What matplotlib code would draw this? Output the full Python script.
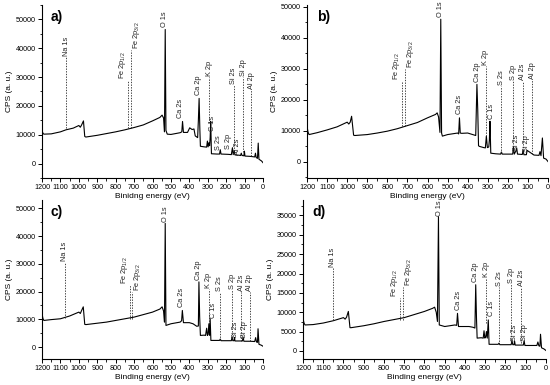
import numpy as np
import matplotlib.pyplot as plt
from matplotlib.ticker import MultipleLocator

plt.rcParams['font.family'] = ['Liberation Sans', 'DejaVu Sans']
plt.rcParams['mathtext.default'] = 'regular'

# spectra (binding energy eV, CPS)
e_a = [1200, 1195, 1190, 1150, 1100, 1070, 1030, 1000, 992, 985, 975, 968, 962, 900, 850, 800, 750, 700, 650, 600,
       560, 548, 540, 535, 531, 527, 520, 500, 450, 441, 437, 432, 410, 398, 385, 375, 368, 355, 351, 347, 343, 340,
       320, 306, 302, 298, 294, 290, 287, 284, 280, 250, 236, 232, 228, 190, 172, 166, 162, 156, 152, 130, 122, 118,
       114, 104, 101, 98, 70, 45, 41, 37, 30, 26, 22, 15, 8, 0]
y_a = [11500, 10500, 10200, 10300, 11000, 11700, 12300, 13200, 12600, 13400, 14800, 9400, 9200, 9800, 10400, 11000,
       11700, 12500, 13400, 14800, 16000, 16800, 15800, 11000, 46500, 11500, 10200, 10100, 10700, 11000, 14600,
       10800, 10800, 12400, 11800, 12000, 9600, 9000, 15000, 22600, 12000, 6000, 5800, 5700, 7800, 5800, 7200, 6200,
       9000, 14600, 3400, 3300, 3300, 4800, 3300, 3200, 3100, 5500, 3100, 4300, 3000, 2900, 2800, 3600, 2800, 2700,
       4300, 2600, 2500, 2300, 3600, 2100, 1800, 7100, 1500, 1200, 900, 300]

e_b = [1200, 1195, 1190, 1150, 1100, 1050, 1000, 992, 985, 978, 968, 962, 900, 850, 800, 750, 700, 650, 600, 560,
       552, 545, 538, 534, 530, 526, 500, 450, 445, 441, 437, 430, 400, 380, 360, 354, 350, 346, 342, 320, 312, 307,
       302, 295, 292, 289, 285, 260, 236, 232, 228, 200, 176, 172, 168, 160, 156, 152, 130, 128, 124, 120, 110, 108,
       104, 70, 45, 40, 35, 28, 22, 10, 0]
y_b = [11500, 9600, 8800, 9400, 10300, 11300, 12800, 12200, 12800, 14700, 8600, 8500, 8800, 9300, 9900, 10700, 11700,
       12700, 14200, 15300, 15800, 14500, 9500, 46000, 9300, 8300, 8800, 9300, 9000, 14200, 9300, 9200, 9300, 8900,
       8500, 25000, 17000, 5200, 5000, 4600, 4500, 8300, 4600, 4800, 7000, 13100, 2800, 2600, 2500, 3200, 2500, 2500,
       2500, 4700, 2500, 3500, 4500, 2500, 2400, 2400, 3800, 2300, 2300, 2300, 3700, 2200, 2100, 3300, 2000, 7700,
       1200, 900, 100]

e_c = [1200, 1195, 1190, 1150, 1100, 1050, 1000, 992, 985, 976, 968, 962, 900, 850, 800, 750, 700, 650, 600, 560,
       548, 540, 535, 531, 527, 500, 450, 442, 438, 432, 400, 380, 360, 351, 348, 344, 340, 320, 312, 306, 302, 298,
       294, 290, 287, 283, 260, 236, 232, 228, 200, 172, 168, 164, 158, 155, 152, 130, 112, 108, 104, 70, 45, 40, 35,
       30, 27, 22, 10, 0]
y_c = [12000, 10300, 9600, 9900, 10200, 11200, 12600, 12100, 13200, 14500, 8200, 8100, 8600, 9000, 9600, 10200, 10800,
       11700, 12600, 13700, 14500, 13000, 9000, 44600, 7800, 8400, 9000, 9500, 13200, 8800, 8800, 8400, 7500, 7600,
       23500, 11000, 4200, 4300, 4200, 6800, 4200, 4500, 8400, 4200, 10200, 2400, 2400, 2400, 2900, 2300, 2300, 2300,
       3600, 2300, 2300, 3400, 2200, 2200, 2200, 3600, 2100, 2100, 2000, 3400, 1800, 1700, 6600, 1000, 700, 300]

e_d = [1200, 1195, 1190, 1150, 1100, 1050, 1000, 992, 985, 976, 968, 962, 900, 850, 800, 750, 700, 650, 600, 560,
       550, 542, 536, 531, 527, 500, 450, 441, 437, 432, 400, 380, 360, 351, 347, 343, 340, 320, 310, 306, 302, 298,
       294, 290, 285, 281, 260, 236, 232, 228, 200, 172, 168, 164, 158, 155, 152, 130, 112, 108, 104, 70, 45, 40, 35,
       30, 27, 22, 10, 0]
y_d = [8400, 7200, 6700, 6800, 7200, 7800, 8600, 8200, 8700, 10200, 6000, 6000, 6500, 7000, 7600, 8100, 8600, 9400,
       10200, 11000, 11300, 10000, 7600, 34700, 6700, 6300, 6700, 6600, 9700, 6300, 6300, 6300, 6100, 5900, 17100,
       8000, 3300, 3400, 3300, 5200, 3300, 3500, 5000, 3300, 8000, 1700, 1700, 1700, 2000, 1600, 1600, 1600, 2700,
       1600, 1600, 2500, 1500, 1500, 1500, 2600, 1400, 1400, 1400, 2300, 1300, 1200, 4300, 800, 500, 100]

# peak labels: name, energy, bottom of dotted line, text base (CPS)
lab_a = ['Na 1s', 'Fe 2p$_{1/2}$', 'Fe 2p$_{3/2}$', 'O 1s', 'Ca 2s', 'Ca 2p', 'K 2p', 'C 1s', 'S 2s', 'S 2p',
         'Si 2s', 'Al 2s', 'Si 2p', 'Al 2p']
pos_a = [1068, 734, 716, 534, 447, 352, 292, 276, 243, 189, 158, 140, 108, 63]
bot_a = [12300, 12300, 12300, 47000, 15500, 23500, 14000, 11000, 4300, 4700, 4300, 2500, 4100, 2700]
top_a = [37000, 29000, 39300, 47000, 15500, 23500, 30100, 11000, 4300, 4700, 27200, 2500, 30000, 25500]
ha_a = ['center', 'right', 'left'] + ['center'] * 11

lab_b = ['Fe 2p$_{1/2}$', 'Fe 2p$_{3/2}$', 'O 1s', 'Ca 2s', 'Ca 2p', 'K 2p', 'C 1s', 'S 2s', 'S 2p', 'Si 2s',
         'Al 2s', 'Si 2p', 'Al 2p']
pos_b = [727, 710, 533, 442, 350, 310, 280, 233, 172, 158, 125, 108, 78]
bot_b = [11500, 11500, 46500, 15000, 25500, 8500, 13500, 2700, 3300, 3100, 3000, 3000, 2600]
top_b = [26000, 29800, 46500, 15000, 25500, 31000, 13500, 24400, 26000, 3100, 26000, 3000, 26500]
ha_b = ['right', 'left'] + ['center'] * 11

lab_c = ['Na 1s', 'Fe 2p$_{1/2}$', 'Fe 2p$_{3/2}$', 'O 1s', 'Ca 2s', 'Ca 2p', 'K 2p', 'C 1s', 'S 2s', 'S 2p',
         'Si 2s', 'Al 2s', 'Si 2p', 'Al 2p']
pos_c = [1077, 724, 710, 532, 442, 348, 294, 270, 234, 167, 149, 117, 99, 72]
bot_c = [10500, 10200, 10200, 44800, 14000, 24000, 8400, 10300, 2400, 2400, 3000, 2300, 3000, 2100]
top_c = [30700, 22300, 19900, 44800, 14000, 24000, 21100, 10300, 19900, 20500, 3000, 20000, 3000, 20000]
ha_c = ['center', 'right', 'left'] + ['center'] * 11

lab_d = ['Na 1s', 'Fe 2p$_{1/2}$', 'Fe 2p$_{3/2}$', 'O 1s', 'Ca 2s', 'Ca 2p', 'K 2p', 'C 1s', 'S 2s', 'S 2p',
         'Si 2s', 'Al 2s', 'Si 2p']
pos_d = [1053, 720, 705, 525, 433, 347, 296, 268, 230, 171, 155, 123, 105]
bot_d = [8000, 8000, 8000, 34700, 10200, 17500, 7200, 8900, 1900, 2400, 2400, 2000, 2400]
top_d = [21400, 13600, 16500, 34700, 10200, 17500, 18800, 8900, 16600, 17400, 2400, 16600, 2400]
ha_d = ['center', 'right', 'left'] + ['center'] * 10

fig = plt.figure(figsize=(5.5, 3.85), dpi=100)
ax_a = fig.add_axes([0.0764, 0.5377, 0.4018, 0.4494])
ax_b = fig.add_axes([0.5582, 0.5377, 0.4382, 0.4494])
ax_c = fig.add_axes([0.0764, 0.0675, 0.4018, 0.413])
ax_d = fig.add_axes([0.5509, 0.0675, 0.4418, 0.413])

panels = [
    (ax_a, e_a, y_a, lab_a, pos_a, bot_a, top_a, ha_a, 'a)', 'Binidng energy (eV)', (-5000, 55000), 10000, 5000),
    (ax_b, e_b, y_b, lab_b, pos_b, bot_b, top_b, ha_b, 'b)', 'Binding energy (eV)', (-5200, 50600), 10000, 5000),
    (ax_c, e_c, y_c, lab_c, pos_c, bot_c, top_c, ha_c, 'c)', 'Binding energy (eV)', (-4300, 53000), 10000, 5000),
    (ax_d, e_d, y_d, lab_d, pos_d, bot_d, top_d, ha_d, 'd)', 'Binding energy (eV)', (-2100, 39000), 5000, 2500),
]

for ax, e, y, lab, pos, bot, top, has, tag, xl, ylim, major, minor in panels:
    ax.plot(e, y, color='black', lw=0.8)
    span = ylim[1] - ylim[0]
    for name, x0, y0, y1, h in zip(lab, pos, bot, top, has):
        if y1 > y0:
            ax.plot([x0, x0], [y0, y1], color='#222222', lw=0.6, ls=(0, (1.6, 1.6)))
        ax.text(x0, y1 + 0.006 * span, name, rotation=90, ha=h, va='bottom', fontsize=5.3, color='#222222')
    ax.set_xlim(1200, 0)
    ax.set_ylim(*ylim)
    ax.xaxis.set_major_locator(MultipleLocator(100))
    ax.xaxis.set_minor_locator(MultipleLocator(50))
    ax.yaxis.set_major_locator(MultipleLocator(major))
    ax.yaxis.set_minor_locator(MultipleLocator(minor))
    for s in ['top', 'right']:
        ax.spines[s].set_visible(False)
    for s in ['left', 'bottom']:
        ax.spines[s].set_linewidth(0.8)
    ax.tick_params(which='major', labelsize=5.2, length=3, width=0.7, pad=1.5)
    ax.tick_params(which='minor', length=1.8, width=0.6)
    ax.set_xlabel(xl, fontsize=6, labelpad=1)
    ax.set_ylabel('CPS (a. u.)', fontsize=6, labelpad=2)
    ax.text(0.04, 0.97, tag, transform=ax.transAxes, fontsize=10, fontweight='bold', va='top', ha='left')

fig.savefig('out.png', dpi=100)
